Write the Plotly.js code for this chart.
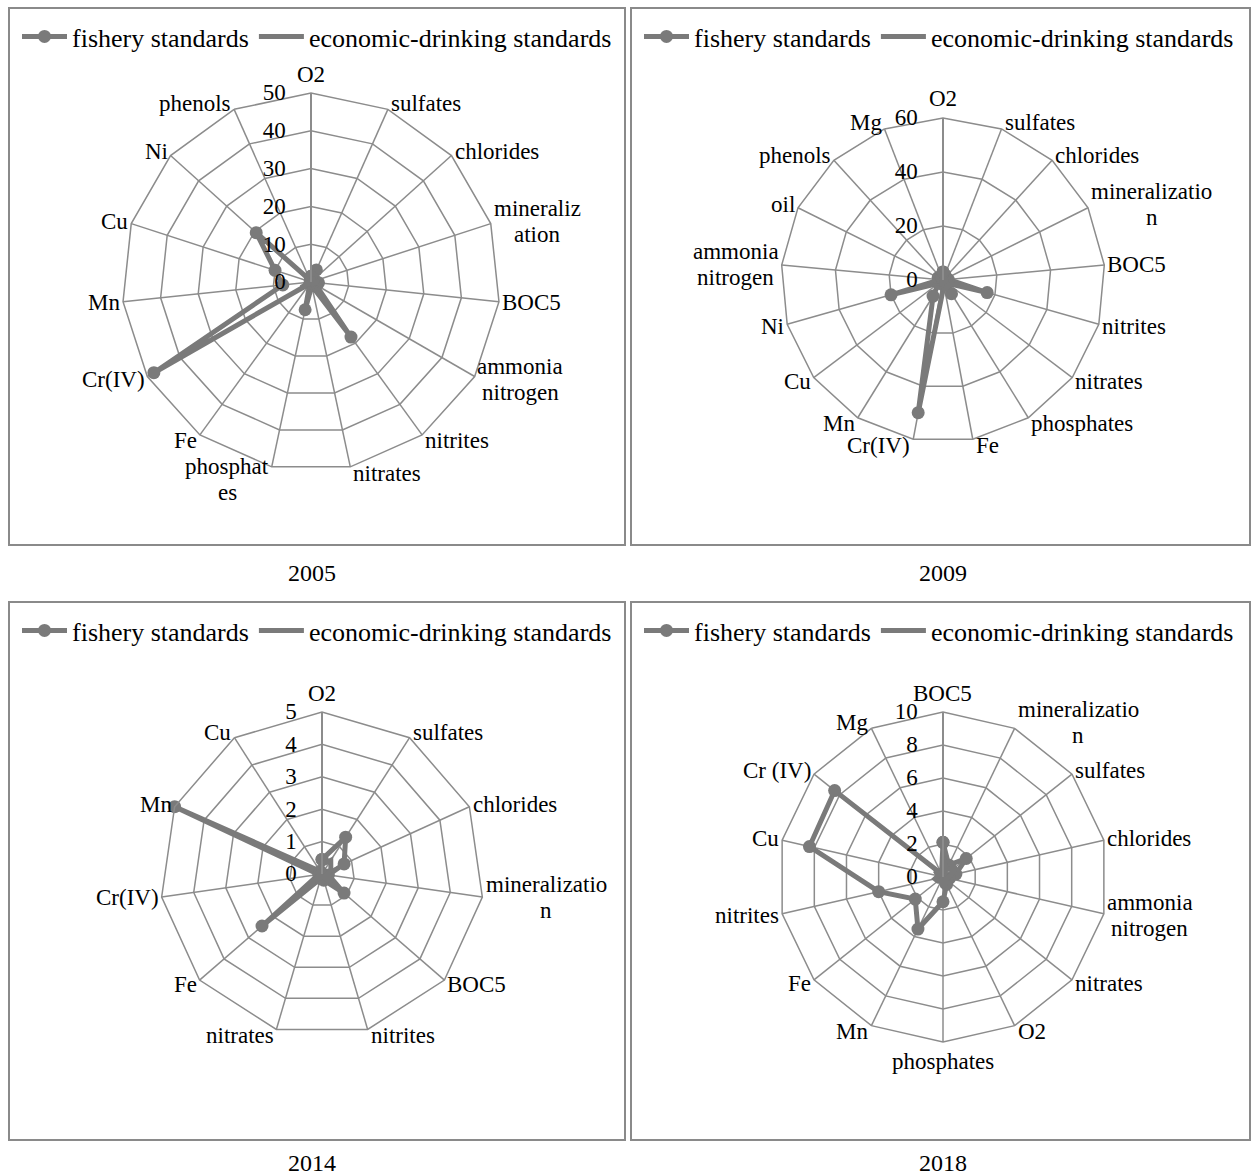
<!DOCTYPE html>
<html>
<head>
<meta charset="utf-8">
<script src="https://cdn.plot.ly/plotly-3.0.1.min.js"></script>
<style>
  html, body { margin: 0; padding: 0; background: #fff; }
  #chart { width: 1255px; height: 1175px; }
</style>
</head>
<body>
<div id="chart"></div>
<script>
// ---------- data ----------
const seriesNames = ["fishery standards", "economic-drinking standards"];
const years = ["2005", "2009", "2014", "2018"];

const cats2005 = ["O2", "sulfates", "chlorides", "mineraliz<br>ation", "BOC5", "ammonia<br>nitrogen",
  "nitrites", "nitrates", "phosphat<br>es", "Fe", "Cr(IV)", "Mn", "Cu", "Ni", "phenols"];
const fish2005 = [1.5, 3.5, 1, 1, 2, 1.5, 18, 1, 7.5, 0.5, 48, 7.5, 10, 19.5, 0.5];
const econ2005 = [0.5, 1.5, 0.5, 0.8, 2, 0.5, 1.2, 0.3, 0.8, 0.2, 3, 0.5, 0.3, 0.5, 0.2];

const cats2009 = ["O2", "sulfates", "chlorides", "mineralizatio<br>n", "BOC5", "nitrites", "nitrates",
  "phosphates", "Fe", "Cr(IV)", "Mn", "Cu", "Ni", "ammonia<br>nitrogen", "oil", "phenols", "Mg"];
const fish2009 = [3, 2, 1.5, 1, 2, 17, 2, 6, 2, 50, 7, 2, 20, 1, 2, 1, 1];
const econ2009 = [1, 1, 0.5, 0.8, 1.5, 1, 0.5, 1.5, 0.5, 2, 1, 0.3, 1, 0.5, 0.5, 0.3, 0.5];

const cats2014 = ["O2", "sulfates", "chlorides", "mineralizatio<br>n", "BOC5", "nitrites", "nitrates",
  "Fe", "Cr(IV)", "Mn", "Cu"];
const fish2014 = [0.45, 1.35, 0.75, 0.2, 0.9, 0.2, 0.15, 2.45, 0.1, 5.0, 0.1];
const econ2014 = [0.3, 0.5, 0.3, 0.15, 0.4, 0.1, 0.1, 0.3, 0.05, 0.2, 0.05];

const cats2018 = ["BOC5", "mineralizatio<br>n", "sulfates", "chlorides", "ammonia<br>nitrogen", "nitrates",
  "O2", "phosphates", "Mn", "Fe", "nitrites", "Cu", "Cr (IV)", "Mg"];
const fish2018 = [2.1, 0.8, 1.8, 0.8, 0.4, 0.3, 0.5, 1.5, 3.5, 2.15, 4.0, 8.3, 8.4, 0.2];
const econ2018 = [1.2, 0.5, 1.0, 0.5, 0.3, 0.2, 0.4, 0.6, 0.3, 0.4, 0.5, 0.3, 0.6, 0.1];

const radialMax = [50, 60, 5, 10];
const radialStep = [10, 20, 1, 2];

// ---------- layout helpers ----------
const W = 1255, H = 1175;
const px = x => x / W;
const py = y => 1 - y / H;

const lineColor = "#7a7a7a";
const gridColor = "#8c8c8c";
const fontFam = "Liberation Serif, Times New Roman, serif";
const labelSize = 23;

const measureCtx = document.createElement("canvas").getContext("2d");
measureCtx.font = labelSize + "px 'Liberation Serif'";
const textW = t => measureCtx.measureText(t).width;

const panels = [
  {cats: cats2005, fish: fish2005, econ: econ2005, cx: 311, cy: 282, R: 189},
  {cats: cats2009, fish: fish2009, econ: econ2009, cx: 943, cy: 280, R: 162},
  {cats: cats2014, fish: fish2014, econ: econ2014, cx: 322, cy: 874, R: 162},
  {cats: cats2018, fish: fish2018, econ: econ2018, cx: 943, cy: 877, R: 165}
];
const boxes = [
  {x0: 9, x1: 625, y0: 8, y1: 545},
  {x0: 631, x1: 1250, y0: 8, y1: 545},
  {x0: 9, x1: 625, y0: 602, y1: 1140},
  {x0: 631, x1: 1250, y0: 602, y1: 1140}
];
const captionPos = [[312, 573], [943, 573], [312, 1163], [943, 1163]];
const padX = 3, padY = 6.5, endPad = 8, lineGap = 26;

const close = a => a.concat([a[0]]);

const data = [];
const layout = {
  width: W, height: H,
  margin: {l: 0, r: 0, t: 0, b: 0},
  paper_bgcolor: "#fff",
  font: {family: fontFam, color: "#000", size: labelSize},
  shapes: [], annotations: []
};

panels.forEach((p, i) => {
  const pid = i === 0 ? "polar" : "polar" + (i + 1);
  const lid = i === 0 ? "legend" : "legend" + (i + 1);
  data.push({
    type: "scatterpolar", subplot: pid, legend: lid,
    name: seriesNames[0], mode: "lines+markers",
    theta: close(p.cats), r: close(p.fish),
    line: {color: lineColor, width: 5},
    marker: {color: lineColor, size: 13},
    hoverinfo: "skip"
  });
  data.push({
    type: "scatterpolar", subplot: pid, legend: lid,
    name: seriesNames[1], mode: "lines",
    theta: close(p.cats), r: close(p.econ),
    line: {color: lineColor, width: 5},
    hoverinfo: "skip"
  });
  layout[pid] = {
    domain: {x: [px(p.cx - p.R), px(p.cx + p.R)], y: [py(p.cy + p.R), py(p.cy - p.R)]},
    bgcolor: "rgba(0,0,0,0)",
    gridshape: "linear",
    angularaxis: {
      direction: "clockwise", rotation: 90,
      type: "category", categoryorder: "array", categoryarray: p.cats,
      gridcolor: gridColor, gridwidth: 1.5,
      showline: true, linecolor: gridColor, linewidth: 1.5,
      ticks: "", showticklabels: false
    },
    radialaxis: {
      range: [0, radialMax[i]], dtick: radialStep[i], tick0: 0,
      angle: 90, tickangle: 90, side: "counterclockwise",
      ticksuffix: "\u2002\u2009",
      gridcolor: gridColor, gridwidth: 1.5,
      showline: true, linecolor: gridColor, linewidth: 2,
      ticks: "", tickfont: {family: fontFam, size: labelSize, color: "#000"}
    }
  };
  // category labels placed beside each spoke end (Excel style)
  const n = p.cats.length;
  p.cats.forEach((c, k) => {
    const th = 2 * Math.PI * k / n;
    const s = Math.sin(th), co = Math.cos(th);
    const atEnd = Math.abs(s) <= 0.05;
    const vx = p.cx + p.R * s, vy = p.cy - p.R * co;
    const lines = c.split("<br>");
    const maxW = Math.max(...lines.map(textW));
    const blockH = lineGap * lines.length;
    let cxL, cyB;   // center of label block
    if (atEnd) {
      cxL = vx;
      cyB = co > 0 ? vy - endPad - blockH / 2 + 2 : vy + endPad + blockH / 2 - 2;
    } else {
      cxL = vx + padX * Math.sign(s) + Math.sign(s) * maxW / 2;
      cyB = vy - padY * co;
      if (lines.length > 1 && co < -0.9) cyB += 6;
    }
    lines.forEach((t, j) => {
      const ly = cyB + (j - (lines.length - 1) / 2) * lineGap;
      layout.annotations.push({
        xref: "paper", yref: "paper",
        x: px(cxL), y: py(ly),
        xanchor: "center", yanchor: "middle",
        text: t, showarrow: false,
        font: {family: fontFam, size: labelSize, color: "#000"}
      });
    });
  });
  const b = boxes[i];
  layout[lid] = {
    orientation: "h",
    x: px(b.x0 + 8), y: py(b.y0 + 5), xanchor: "left", yanchor: "top",
    bgcolor: "rgba(0,0,0,0)", itemwidth: 45,
    font: {family: fontFam, size: 26, color: "#000"},
    itemclick: false, itemdoubleclick: false
  };
  layout.shapes.push({
    type: "rect", xref: "paper", yref: "paper",
    x0: px(b.x0), x1: px(b.x1), y0: py(b.y1), y1: py(b.y0),
    line: {color: "#8a8a8a", width: 2}, fillcolor: "rgba(0,0,0,0)"
  });
  layout.annotations.push({
    xref: "paper", yref: "paper",
    x: px(captionPos[i][0]), y: py(captionPos[i][1]),
    xanchor: "center", yanchor: "middle",
    text: years[i], showarrow: false,
    font: {family: fontFam, size: 24, color: "#000"}
  });
});

Plotly.newPlot("chart", data, layout, {staticPlot: true, displayModeBar: false});
</script>
</body>
</html>
